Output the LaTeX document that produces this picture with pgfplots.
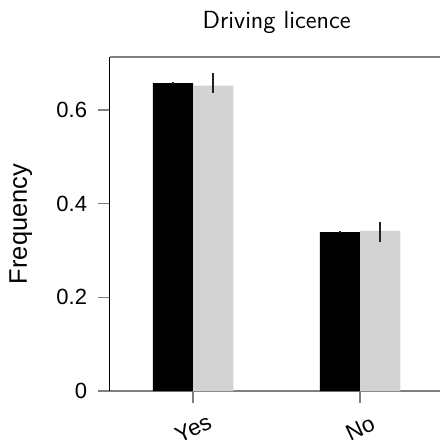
\documentclass[border=0pt]{standalone}
\usepackage{fontspec}
\setmainfont{Liberation Sans}
\usepackage{pgfplots}
\pgfplotsset{compat=1.18}

\definecolor{barblack}{HTML}{000000}
\definecolor{bargray}{HTML}{D3D3D3}
\definecolor{framegray}{HTML}{808080}
\definecolor{errcol}{HTML}{222222}

\begin{document}
\begin{tikzpicture}
\begin{axis}[
  at={(0,0)}, anchor=south west,
  scale only axis,
  width=167pt, height=167pt,
  xmin=-0.5, xmax=1.5,
  ymin=0, ymax=0.713,
  axis x line*=box,
  axis y line*=left,
  separate axis lines,
  x axis line style={framegray, line width=0.8pt, -},
  y axis line style={black, line width=0.6pt, -},
  xtick={0,1},
  xticklabels={Yes,No},
  xtick pos=lower,
  ytick={0,0.2,0.4,0.6},
  yticklabels={0,0.2,0.4,0.6},
  ytick pos=left,
  tick align=outside,
  major tick length=5.8pt,
  every tick/.style={framegray, line width=0.8pt},
  /pgf/number format/assume math mode=true,
  yticklabel style={font={\fontsize{11}{13}\selectfont}, xshift=-2pt},
  xticklabel shift=13pt,
  xticklabel style={font={\fontsize{11.3}{13}\selectfont}, rotate=25, anchor=center},
  ylabel={Frequency},
  ylabel style={font={\fontsize{12.7}{14}\selectfont}, at={(axis description cs:-0.2665,0.5)}, anchor=center},
  title={Driving licence},
  title style={font={\sffamily\fontsize{12.4}{14}\selectfont}, at={(axis description cs:0.5,1)}, anchor=base, yshift=8.5pt},
  ybar,
  bar width=0.241,
  error bars/y dir=both,
  error bars/y explicit,
  error bars/error mark=none,
  error bars/error bar style={errcol, line width=1pt},
]
% observed proportions
\addplot[fill=barblack, draw=none, bar shift=-0.1205]
  coordinates {(0,0.657) +- (0.002,0.002) (1,0.339) +- (0.002,0.002)};
% replicated proportions with intervals
\addplot[fill=bargray, draw=none, bar shift=0.1205]
  coordinates {(0,0.652) += (0,0.026) -= (0,0.015) (1,0.342) += (0,0.018) -= (0,0.024)};
\end{axis}
\pgfresetboundingbox
\useasboundingbox (-54.85pt,-28pt) rectangle (165.15pt,195.5pt);
\end{tikzpicture}
\end{document}
